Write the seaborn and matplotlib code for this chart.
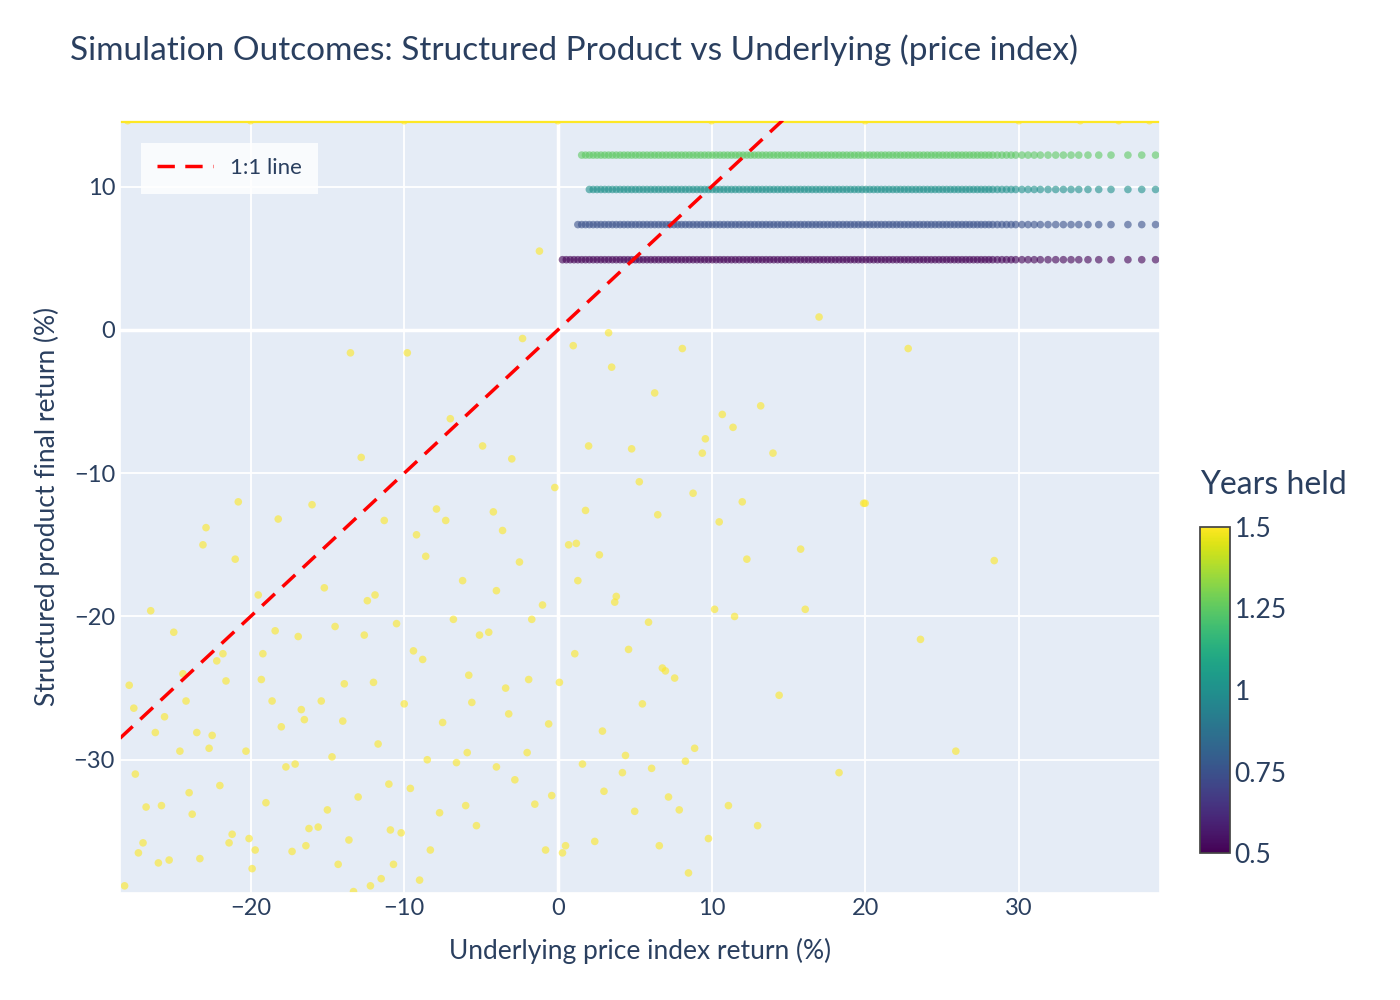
import numpy as np
import pandas as pd
import matplotlib
matplotlib.use("Agg")
import matplotlib.pyplot as plt
import seaborn as sns

# yellow (1.5 years held) outcomes: underlying return, product return
yellow_x = [-28.2, -27.9, -27.5, -27.0, -26.5, -26.2, -25.8, -25.3, -25.0, -24.6, -24.2, -23.8, -23.3, -22.9,
            -22.5, -22.0, -21.6, -21.2, -20.8, -20.3, -19.9, -19.5, -19.0, -18.6, -18.2, -17.7, -17.3, -16.9,
            -16.5, -16.0, -15.6, -15.2, -14.7, -14.3, -13.9, -13.5, -13.0, -12.6, -12.2, -11.7, -11.3, -10.9,
            -10.5, -10.0, -9.6, -9.2, -8.8, -8.3, -7.9, -7.5, -7.0, -6.6, -6.2, -5.8, -5.3, -4.9, -4.5, -4.0,
            -3.6, -3.2, -2.8, -2.3, -1.9, -1.5, -1.0, -0.6, -0.2, 0.3, 0.7, 1.1, 1.6, 2.0, 2.4, 2.9, 3.3, 3.7,
            4.2, 4.6, 5.0, 5.5, 5.9, 6.3, 6.8, 7.2, 7.6, 8.1, 8.5, 8.9, 9.4, 9.8, 10.2, 10.7, 11.1, 11.5, 12.0,
            13.0, 14.0, 15.8, 16.1, 18.3, 19.9, 22.8, 23.6, 25.9, 28.4,
            -27.6, -26.8, -25.6, -24.0, -23.1, -22.2, -21.0, -20.1, -19.2, -18.0, -17.1, -16.2, -15.4, -14.5,
            -13.6, -12.8, -11.9, -11.0, -10.2, -9.4, -8.6, -7.7, -6.8, -5.9, -5.1, -4.2, -3.4, -2.5, -1.7,
            -0.8, 0.1, 1.0, 1.8, 2.7, 3.5, 4.4, 5.3, 6.1, 7.0, 7.9, 8.8, 9.6, 10.5, 11.4, 12.3, 13.2, 14.4,
            -27.3, -26.0, -24.4, -22.7, -21.4, -19.7, -18.4, -16.7, -15.0, -13.3, -12.0, -10.7, -9.0, -7.3,
            -5.6, -4.0, -2.0, -0.4, 1.3, 3.0, 4.8, 6.6, 8.3, 17.0, 20.0, 0.5, 1.2, -1.2, -9.8, -14.0, -12.4,
            -16.4, -21.8, -23.5, -8.5, -3.0, 3.8, 6.5, -6.0, -11.5, -19.3, -25.2]
yellow_y = [-38.8, -24.8, -31.0, -35.8, -19.6, -28.1, -33.2, -37.0, -21.1, -29.4, -25.9, -33.8, -36.9, -13.8,
            -28.3, -31.8, -24.5, -35.2, -12.0, -29.4, -37.6, -18.5, -33.0, -25.9, -13.2, -30.5, -36.4, -21.4,
            -27.2, -12.2, -34.7, -18.0, -29.8, -37.3, -24.7, -1.6, -32.6, -21.3, -38.8, -28.9, -13.3, -34.9,
            -20.5, -26.1, -32.0, -14.3, -23.0, -36.3, -12.5, -27.4, -6.2, -30.2, -17.5, -24.1, -34.6, -8.1,
            -21.1, -30.5, -14.0, -26.8, -31.4, -0.6, -24.4, -33.1, -19.2, -27.5, -11.0, -36.5, -15.0, -22.6,
            -30.3, -8.1, -35.7, -28.0, -0.2, -19.0, -30.9, -22.3, -33.6, -26.1, -20.4, -4.4, -23.6, -32.6,
            -24.3, -1.3, -37.9, -29.2, -8.6, -35.5, -19.5, -5.9, -33.2, -20.0, -12.0, -34.6, -8.6, -15.3,
            -19.5, -30.9, -12.1, -1.3, -21.6, -29.4, -16.1,
            -26.4, -33.3, -27.0, -32.3, -15.0, -23.1, -16.0, -35.5, -22.6, -27.7, -30.3, -34.8, -25.9, -20.7,
            -35.6, -8.9, -18.5, -31.7, -35.1, -22.4, -15.8, -33.7, -20.2, -29.5, -21.3, -12.7, -25.0, -16.2,
            -20.2, -36.3, -24.6, -1.1, -12.6, -15.7, -2.6, -29.7, -10.6, -30.6, -23.8, -33.5, -11.4, -7.6,
            -13.4, -6.8, -16.0, -5.3, -25.5,
            -36.5, -37.2, -24.0, -29.2, -35.8, -36.3, -21.0, -26.5, -33.5, -39.2, -24.6, -37.3, -38.4, -13.3,
            -26.0, -18.2, -29.5, -32.5, -17.5, -32.2, -8.3, -36.0, -30.1, 0.9, -12.1, -36.0, -14.9, 5.5, -1.6,
            -27.3, -18.9, -36.0, -22.6, -28.1, -30.0, -9.0, -18.6, -12.9, -33.2, -38.3, -24.4]
# other years-held bands: product return is capped at a fixed coupon
band_years = [0.5, 0.75, 1.0, 1.25]
band_y = [4.9, 7.35, 9.8, 12.2]
band_start = [0.3, 1.1, 1.9, 1.5]
band_x = [0.3, 0.55, 0.8, 1.05, 1.3, 1.55, 1.8, 2.05, 2.3, 2.55, 2.8, 3.05, 3.3, 3.55, 3.8, 4.05, 4.3, 4.55,
          4.8, 5.05, 5.3, 5.55, 5.8, 6.05, 6.3, 6.55, 6.8, 7.05, 7.3, 7.55, 7.8, 8.05, 8.3, 8.55, 8.8, 9.05,
          9.3, 9.55, 9.8, 10.05, 10.3, 10.55, 10.8, 11.05, 11.3, 11.55, 11.8, 12.05, 12.3, 12.55, 12.8, 13.05,
          13.3, 13.55, 13.8, 14.05, 14.3, 14.55, 14.8, 15.05, 15.3, 15.55, 15.8, 16.05, 16.3, 16.55, 16.8,
          17.05, 17.3, 17.55, 17.8, 18.05, 18.3, 18.55, 18.8, 19.05, 19.3, 19.55, 19.8, 20.05, 20.3, 20.55,
          20.8, 21.05, 21.3, 21.55, 21.8, 22.05, 22.3, 22.55, 22.8, 23.05, 23.3, 23.55, 23.8, 24.05, 24.3,
          24.55, 24.8, 25.05, 25.3, 25.55, 25.8, 26.05, 26.3, 26.55, 26.8, 27.05, 27.3, 27.55, 27.8, 28.05,
          28.3, 28.6, 28.9, 29.2, 29.5, 29.8, 30.2, 30.6, 31.0, 31.4, 31.9, 32.4, 32.9, 33.4, 33.9, 34.5,
          35.2, 36.0, 37.1, 38.0, 38.9]
top_x = [-28.0, -20.0, -10.0, 0.0, 10.0, 20.0, 30.0, 34.0, 36.5, 38.5]
top_y = 14.6

rows = [(x, y, 1.5) for x, y in zip(yellow_x, yellow_y)]
rows += [(x, top_y, 1.5) for x in top_x]
for yrs, yv, xs in zip(band_years, band_y, band_start):
    rows += [(x, yv, yrs) for x in band_x if x >= xs]
df = pd.DataFrame(rows, columns=["underlying", "product", "years"])

sns.set_theme(style="darkgrid", rc={"axes.facecolor": "#E5ECF6", "grid.color": "white",
                                    "grid.linewidth": 1.3})
plt.rcParams["font.family"] = ["Lato", "DejaVu Sans"]
text_c = "#2a3f5f"

fig = plt.figure(figsize=(14, 10), dpi=100)
ax = fig.add_axes([0.0857, 0.107, 0.743, 0.773])
cmap = plt.get_cmap("viridis")
norm = matplotlib.colors.Normalize(0.5, 1.5)
sns.scatterplot(data=df, x="underlying", y="product", hue="years", palette=cmap, hue_norm=norm,
                s=30, alpha=0.6, linewidth=0, legend=False, ax=ax)
ax.axhline(top_y, color=cmap(1.0), lw=3, zorder=1)
lim = np.array([-28.5, 39.2])
ax.plot(lim, lim, color="red", ls=(0, (5, 3)), lw=2.5, label="1:1 line")
ax.set_xlim(lim)
ax.set_ylim(-39.3, 14.65)
ax.set_xticks([-20, -10, 0, 10, 20, 30])
ax.set_yticks([-30, -20, -10, 0, 10])
ax.axhline(0, color="white", lw=2.5, zorder=0)
ax.axvline(0, color="white", lw=2.5, zorder=0)
ax.tick_params(labelsize=17, colors=text_c, length=0)
ax.set_xlabel("Underlying price index return (%)", fontsize=19, color=text_c, labelpad=14)
ax.set_ylabel("Structured product final return (%)", fontsize=19, color=text_c, labelpad=10)
fig.text(0.05, 0.95, "Simulation Outcomes: Structured Product vs Underlying (price index)",
         fontsize=24, color=text_c, va="center")
leg = ax.legend(loc="upper left", fontsize=16, frameon=True, facecolor="white", framealpha=0.8,
                edgecolor="none", fancybox=False, borderpad=0.7, handlelength=2.5,
                bbox_to_anchor=(0.01, 0.985))
for t in leg.get_texts():
    t.set_color(text_c)

cax = fig.add_axes([0.857, 0.147, 0.0214, 0.326])
cb = fig.colorbar(matplotlib.cm.ScalarMappable(norm=norm, cmap=cmap), cax=cax)
cb.set_ticks([0.5, 0.75, 1.0, 1.25, 1.5])
cb.set_ticklabels(["0.5", "0.75", "1", "1.25", "1.5"])
cb.ax.tick_params(labelsize=19, colors=text_c, length=0)
cb.outline.set_edgecolor("#444444")
fig.text(0.857, 0.515, "Years held", fontsize=23, color=text_c, va="center")
fig.savefig("out.png")
